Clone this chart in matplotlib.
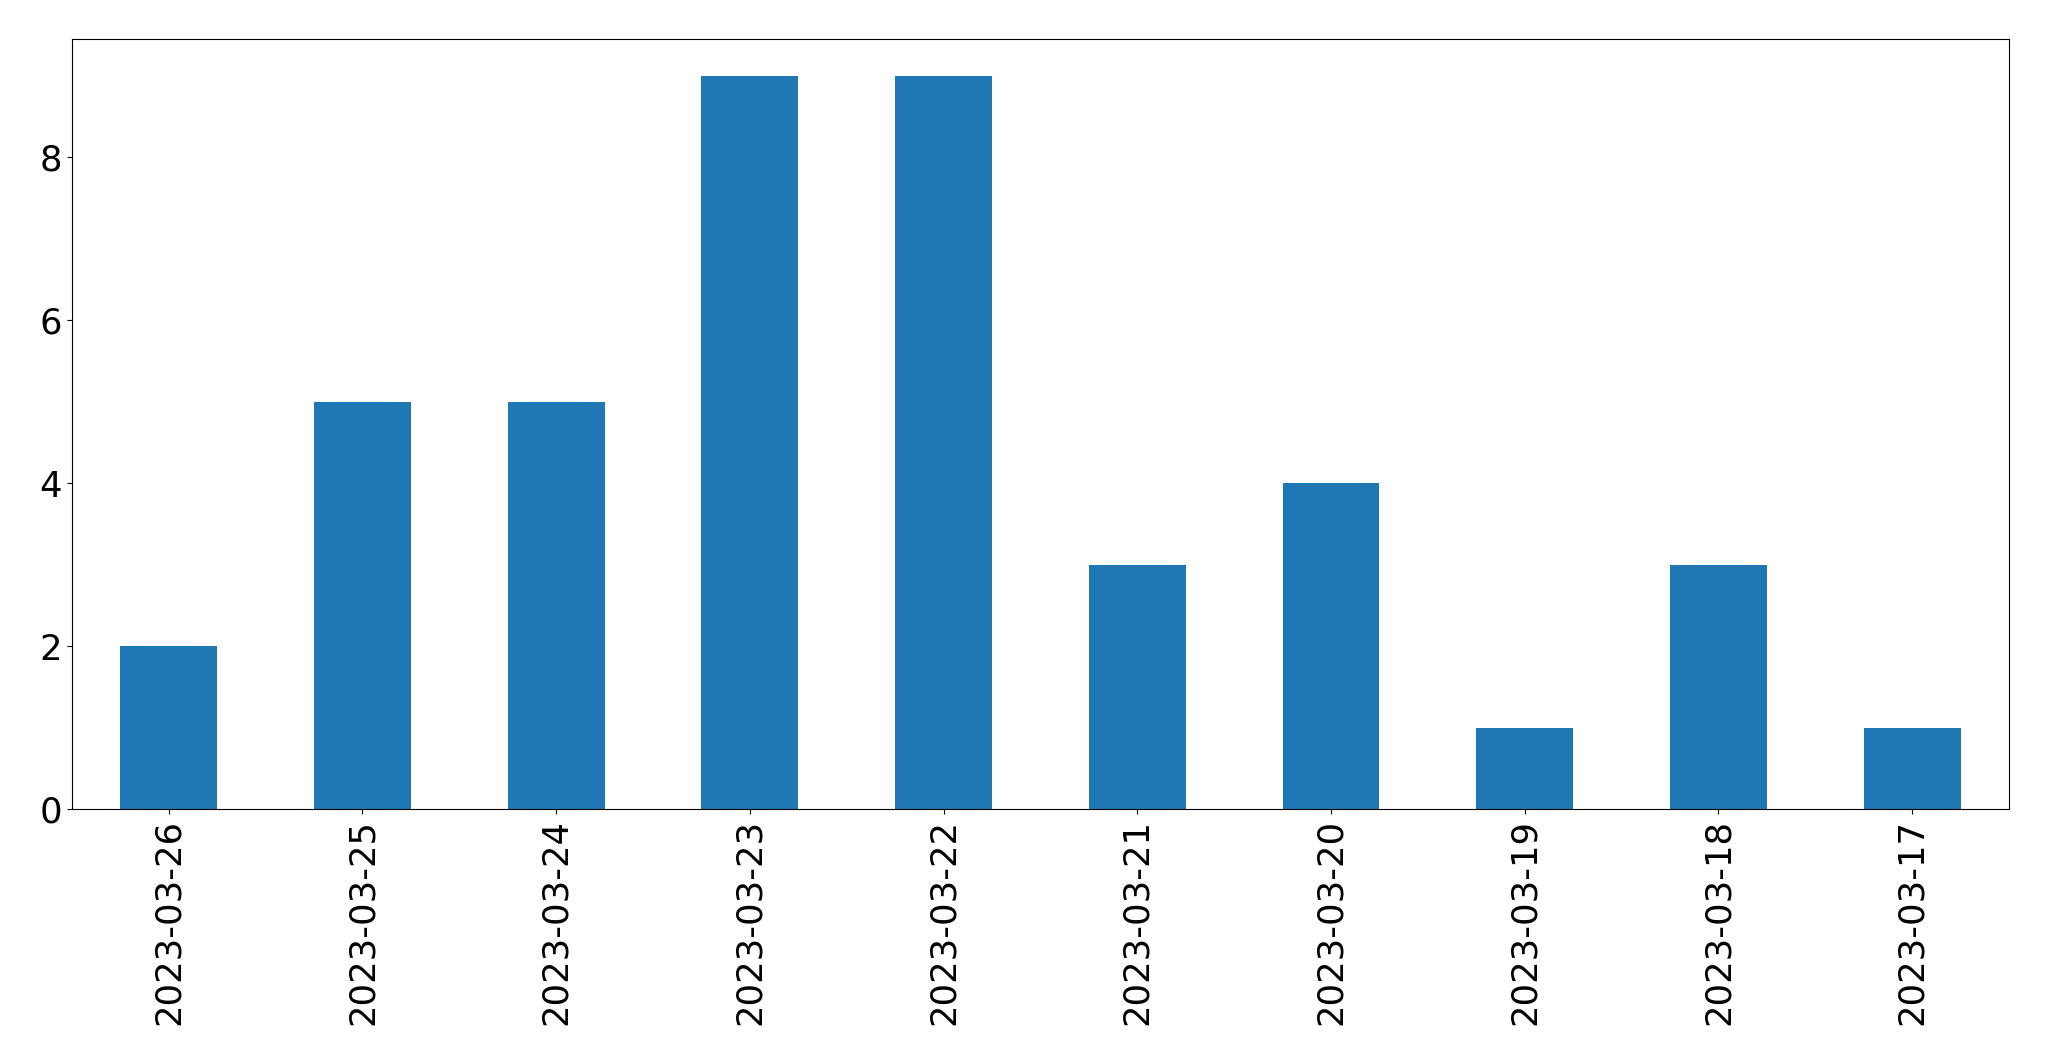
import matplotlib
matplotlib.use("Agg")
import matplotlib.pyplot as plt
import pandas as pd

dates = ["2023-03-26", "2023-03-25", "2023-03-24", "2023-03-23", "2023-03-22",
         "2023-03-21", "2023-03-20", "2023-03-19", "2023-03-18", "2023-03-17"]
counts = [2, 5, 5, 9, 9, 3, 4, 1, 3, 1]

s = pd.Series(counts, index=dates)

fig = plt.figure(figsize=(20.49, 10.61), dpi=100)
ax = fig.add_axes([0.0351, 0.2375, 0.9454, 0.7257])
s.plot(kind="bar", ax=ax, color="#1f77b4")
ax.tick_params(axis="both", labelsize=25.5)
for lbl in ax.get_xticklabels():
    lbl.set_rotation(90)

fig.savefig("out.png", dpi=100)
